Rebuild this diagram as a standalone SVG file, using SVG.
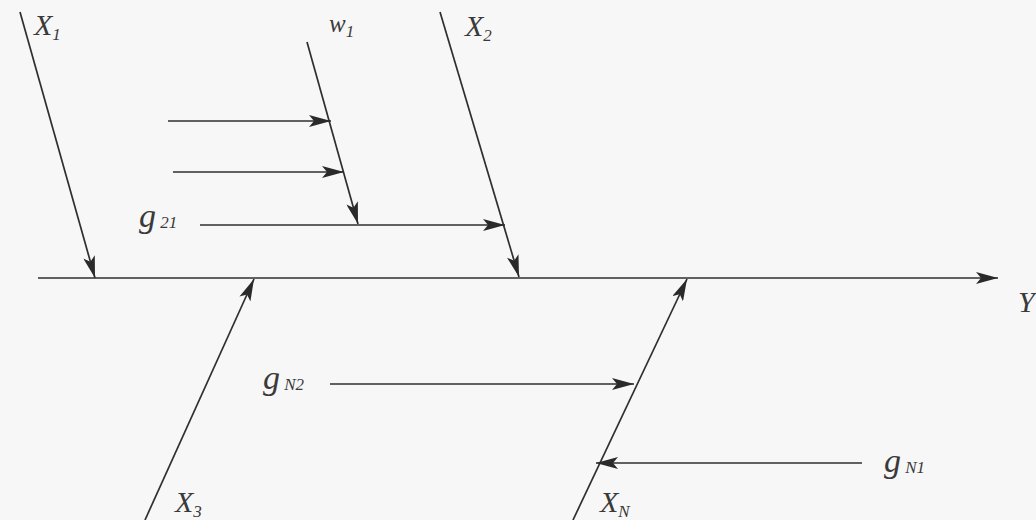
<svg xmlns="http://www.w3.org/2000/svg" width="1036" height="520" viewBox="0 0 1036 520">
<defs>
<marker id="ah" viewBox="0 0 22 12" refX="22" refY="6" markerWidth="22" markerHeight="12" markerUnits="userSpaceOnUse" orient="auto">
<path d="M0,0 L22,6 L0,12 L5,6 Z" fill="#2a2a2a"/>
</marker>
<style>
.c{stroke:#2f2f2f;stroke-width:1.7;fill:none;marker-end:url(#ah)}
</style>
</defs>
<rect width="1036" height="520" fill="#f7f7f7"/>
<g id="connectors">
<line class="c" x1="38" y1="278" x2="998" y2="278"/>
<line class="c" x1="20" y1="12" x2="95" y2="278"/>
<line class="c" x1="307" y1="42" x2="358" y2="224"/>
<line class="c" x1="168" y1="121" x2="331" y2="121"/>
<line class="c" x1="173" y1="172" x2="344" y2="172"/>
<line class="c" x1="200" y1="225" x2="505" y2="225"/>
<line class="c" x1="440" y1="12" x2="519" y2="277"/>
<line class="c" x1="145" y1="520" x2="254" y2="279"/>
<line class="c" x1="573" y1="520" x2="687" y2="279"/>
<line class="c" x1="330" y1="384" x2="634" y2="384"/>
<line class="c" x1="862" y1="463" x2="596" y2="463"/>
</g>
<g font-family="'Liberation Serif', 'DejaVu Serif', serif" font-style="italic" fill="#3a3a3a">
<g id="X1"><text x="34" y="35" font-size="30">X<tspan font-size="17" dy="5">1</tspan></text></g>
<g id="w1"><text x="329" y="32" font-size="25">w<tspan font-size="17" dy="5">1</tspan></text></g>
<g id="X2"><text x="465" y="36" font-size="30">X<tspan font-size="17" dy="5">2</tspan></text></g>
<g id="g21"><text x="139" y="227" font-size="34">g<tspan font-size="17" dy="1"> 21</tspan></text></g>
<g id="Y"><text x="1018" y="312" font-size="30">Y</text></g>
<g id="gN2"><text x="263" y="389" font-size="34">g<tspan font-size="17" dy="1"> N2</tspan></text></g>
<g id="gN1"><text x="884" y="472" font-size="34">g<tspan font-size="17" dy="1"> N1</tspan></text></g>
<g id="X3"><text x="175" y="512" font-size="30">X<tspan font-size="17" dy="5">3</tspan></text></g>
<g id="XN"><text x="600" y="512" font-size="30">X<tspan font-size="17" dy="5">N</tspan></text></g>
</g>
</svg>
